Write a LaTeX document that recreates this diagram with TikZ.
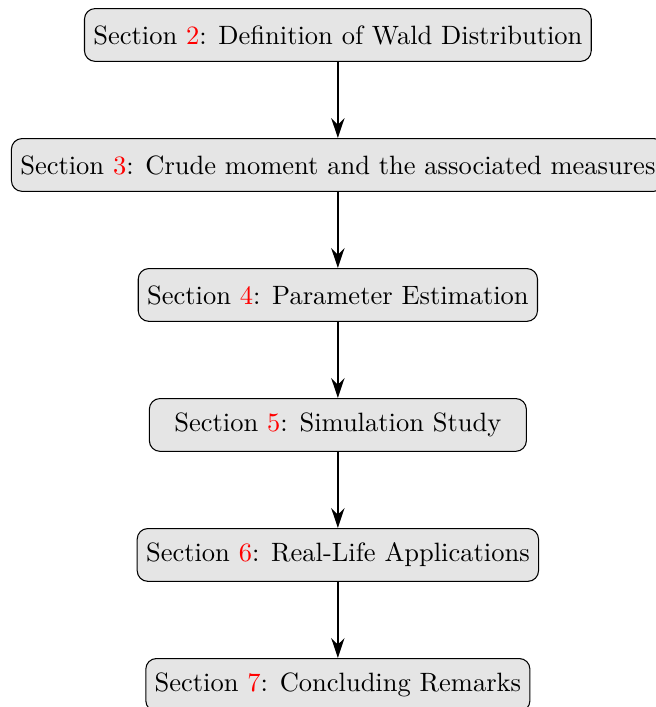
\documentclass[tikz,border=0pt]{standalone}
\usepackage{amsmath}
\usepackage{tikz}
\usetikzlibrary{positioning,arrows.meta}

\begin{document}
\begin{tikzpicture}[
    node distance=1.01cm,
    seccion/.style={draw, rounded corners, fill=gray!20, minimum width=5cm, minimum height=0.7cm},
    flecha/.style={thick, -{Stealth[length=7.5pt,width=5pt]}}
]
    % Fix the visible area
    \useasboundingbox (-127.5pt,13.2pt) rectangle (120pt,-253.6pt);

    % The sections, one below the other
    \node[seccion] (s2) {Section \textcolor{red}{2}: Definition of Wald Distribution};
    \node[seccion, below=of s2] (s3) {Section \textcolor{red}{3}: Crude moment and the associated measures};
    \node[seccion, below=of s3] (s4) {Section \textcolor{red}{4}: Parameter Estimation};
    \node[seccion, below=of s4] (s5) {Section \textcolor{red}{5}: Simulation Study};
    \node[seccion, below=of s5] (s6) {Section \textcolor{red}{6}: Real-Life Applications};
    \node[seccion, below=of s6] (s7) {Section \textcolor{red}{7}: Concluding Remarks};

    % Arrows between the sections
    \draw[flecha] (s2) -- (s3);
    \draw[flecha] (s3) -- (s4);
    \draw[flecha] (s4) -- (s5);
    \draw[flecha] (s5) -- (s6);
    \draw[flecha] (s6) -- (s7);
\end{tikzpicture}
\end{document}
